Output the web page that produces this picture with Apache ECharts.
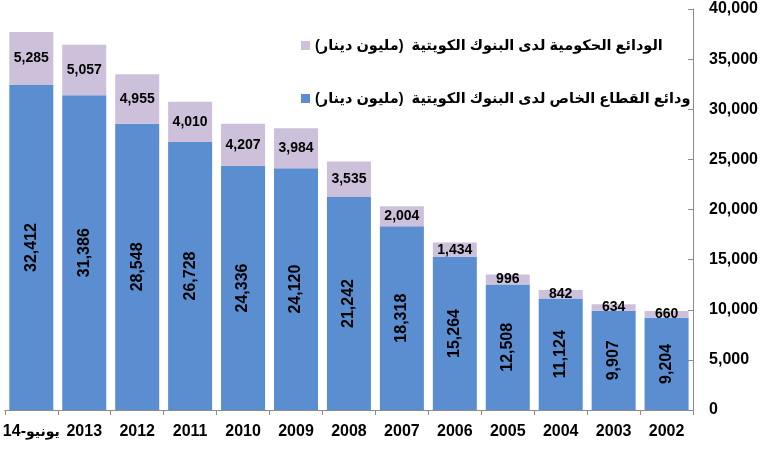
<!DOCTYPE html>
<html>
<head>
<meta charset="utf-8">
<title>Deposits</title>
<script src="https://cdn.jsdelivr.net/npm/echarts@6/dist/echarts.min.js"></script>
<style>
  html, body { margin: 0; padding: 0; background: #fff; }
  #main { width: 761px; height: 450px; }
</style>
</head>
<body>
<div id="main"></div>
<script type="text/javascript">
    // categories, left to right
    var years = ['يونيو-14', '2013', '2012', '2011', '2010', '2009', '2008', '2007', '2006', '2005', '2004', '2003', '2002'];
    // private sector deposits (million KD)
    var privateDeposits = [32412, 31386, 28548, 26728, 24336, 24120, 21242, 18318, 15264, 12508, 11124, 9907, 9204];
    // government deposits (million KD)
    var govDeposits = [5285, 5057, 4955, 4010, 4207, 3984, 3535, 2004, 1434, 996, 842, 634, 660];

    var govName = 'الودائع الحكومية لدى البنوك الكويتية  (مليون دينار)';
    var privName = 'ودائع القطاع الخاص لدى البنوك الكويتية  (مليون دينار)';

    var fmt = function (p) { return p.value.toLocaleString('en-US'); };

    var chart = echarts.init(document.getElementById('main'));

    var option = {
      animation: false,
      textStyle: { fontFamily: 'Liberation Sans, Arial, DejaVu Sans, sans-serif' },
      grid: { left: 3, right: 66, top: 9, bottom: 40, containLabel: false },
      legend: {
        orient: 'vertical',
        left: 296,
        top: 33,
        itemGap: 38,
        itemWidth: 9,
        itemHeight: 9,
        icon: 'rect',
        data: [govName, privName],
        textStyle: { fontSize: 14.5, fontWeight: 'bold', color: '#000' }
      },
      xAxis: {
        type: 'category',
        data: years,
        axisLine: { lineStyle: { color: '#8c8c8c' } },
        axisTick: { show: true, length: 5, lineStyle: { color: '#8c8c8c' } },
        axisLabel: {
          interval: 0, fontSize: 16, fontWeight: 'bold', color: '#000', margin: 14,
          formatter: function (v) {
            // keep the number on the left, month name on the right
            var m = v.match(/^(.+)-(\d+)$/);
            if (m) return '{n|' + m[2] + '-}{a|' + m[1] + '}';
            return v;
          },
          rich: {
            n: { fontSize: 16, fontWeight: 'bold', color: '#000' },
            a: { fontSize: 14, fontWeight: 'bold', color: '#000' }
          }
        }
      },
      yAxis: {
        type: 'value',
        position: 'right',
        min: 0,
        max: 40000,
        interval: 5000,
        splitLine: { show: false },
        axisLine: { show: true, lineStyle: { color: '#8c8c8c' } },
        axisTick: { show: true, inside: true, length: 5, lineStyle: { color: '#8c8c8c' } },
        axisLabel: {
          fontSize: 16, fontWeight: 'bold', color: '#000', margin: 16,
          formatter: function (v) { return v.toLocaleString('en-US'); }
        }
      },
      series: [{
        name: privName,
        type: 'bar',
        stack: 'total',
        barWidth: 44,
        data: privateDeposits,
        itemStyle: { color: '#5b8ed0' },
        label: {
          show: true, position: 'inside', rotate: 90,
          fontSize: 16, fontWeight: 'bold', color: '#000',
          formatter: fmt
        }
      }, {
        name: govName,
        type: 'bar',
        stack: 'total',
        barWidth: 44,
        data: govDeposits,
        itemStyle: { color: '#ccc0da' },
        label: {
          show: true, position: 'inside',
          fontSize: 14, fontWeight: 'bold', color: '#000',
          formatter: fmt
        }
      }]
    };

    chart.setOption(option);
</script>
</body>
</html>
